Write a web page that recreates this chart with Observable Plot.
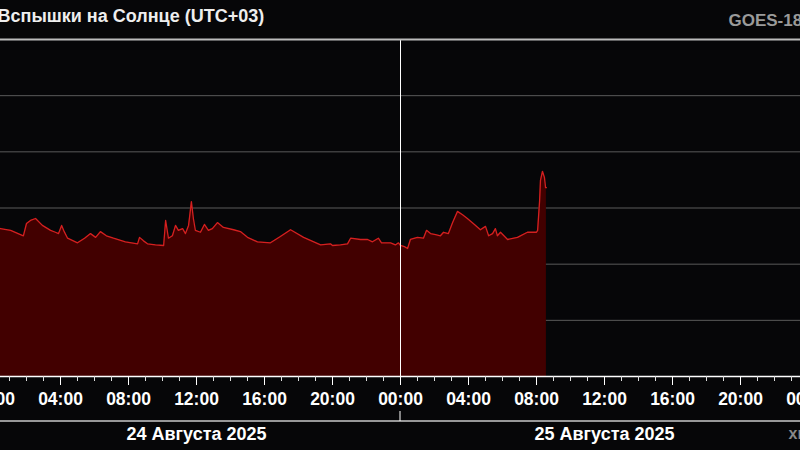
<!DOCTYPE html>
<html><head><meta charset="utf-8">
<script src="https://cdn.jsdelivr.net/npm/d3@7"></script>
<script src="https://cdn.jsdelivr.net/npm/@observablehq/plot@0.6"></script>
<style>html,body{margin:0;padding:0;background:#060608;overflow:hidden;width:800px;height:450px}</style>
</head><body><div id="chart"></div>
<script>
const title = "Вспышки на Солнце (UTC+03)";
const satellite = "GOES-18";
const source = "xras.ru";
const dateLabels = ["24 Августа 2025", "25 Августа 2025"];
const dateCenters = ["2025-08-24T12:00", "2025-08-25T12:00"];
const xDomain = ["2025-08-24T00:00", "2025-08-26T00:00"];
const yDomain = [1e-9, 1e-3];
const gridLevels = [1e-8, 1e-7, 1e-6, 1e-5, 1e-4];

const times = [
 "2025-08-24T00:00","2025-08-24T00:28","2025-08-24T01:04","2025-08-24T01:49","2025-08-24T02:00","2025-08-24T02:14",
 "2025-08-24T02:32","2025-08-24T02:56","2025-08-24T03:25","2025-08-24T03:42","2025-08-24T03:53","2025-08-24T04:04",
 "2025-08-24T04:11","2025-08-24T04:25","2025-08-24T05:00","2025-08-24T05:25","2025-08-24T05:46","2025-08-24T06:04",
 "2025-08-24T06:21","2025-08-24T06:42","2025-08-24T07:07","2025-08-24T07:49","2025-08-24T08:32","2025-08-24T08:39",
 "2025-08-24T08:53","2025-08-24T09:07","2025-08-24T09:35","2025-08-24T10:04","2025-08-24T10:11","2025-08-24T10:21",
 "2025-08-24T10:35","2025-08-24T10:46","2025-08-24T10:56","2025-08-24T11:11","2025-08-24T11:21","2025-08-24T11:32",
 "2025-08-24T11:42","2025-08-24T11:49","2025-08-24T11:56","2025-08-24T12:14","2025-08-24T12:28","2025-08-24T12:42",
 "2025-08-24T12:56","2025-08-24T13:14","2025-08-24T13:35","2025-08-24T14:11","2025-08-24T14:35","2025-08-24T15:00",
 "2025-08-24T15:35","2025-08-24T16:21","2025-08-24T16:56","2025-08-24T17:32","2025-08-24T18:18","2025-08-24T19:18",
 "2025-08-24T19:53","2025-08-24T20:00","2025-08-24T20:28","2025-08-24T20:53","2025-08-24T21:04","2025-08-24T21:39",
 "2025-08-24T22:04","2025-08-24T22:21","2025-08-24T22:42","2025-08-24T22:53","2025-08-24T23:25","2025-08-24T23:42",
 "2025-08-24T23:53",
 "2025-08-25T00:00","2025-08-25T00:14","2025-08-25T00:25","2025-08-25T00:35","2025-08-25T01:00","2025-08-25T01:21",
 "2025-08-25T01:32","2025-08-25T01:46","2025-08-25T02:04","2025-08-25T02:21","2025-08-25T02:32","2025-08-25T02:49",
 "2025-08-25T03:04","2025-08-25T03:21","2025-08-25T03:39","2025-08-25T03:56","2025-08-25T04:21","2025-08-25T04:42",
 "2025-08-25T05:00","2025-08-25T05:11","2025-08-25T05:25","2025-08-25T05:35","2025-08-25T05:42","2025-08-25T05:53",
 "2025-08-25T06:18","2025-08-25T06:53","2025-08-25T07:28","2025-08-25T08:00","2025-08-25T08:04","2025-08-25T08:11",
 "2025-08-25T08:14","2025-08-25T08:21","2025-08-25T08:28","2025-08-25T08:32","2025-08-25T08:35"
];
const flux = [
 4.5e-7,4.3e-7,4.0e-7,3.2e-7,5.3e-7,6.0e-7,
 6.5e-7,4.9e-7,4.0e-7,3.7e-7,3.5e-7,4.9e-7,
 4.0e-7,2.9e-7,2.4e-7,2.9e-7,3.5e-7,3.0e-7,
 3.8e-7,3.2e-7,2.9e-7,2.5e-7,2.3e-7,3.0e-7,
 2.6e-7,2.3e-7,2.2e-7,2.15e-7,6.0e-7,2.9e-7,
 3.2e-7,4.9e-7,4.0e-7,4.3e-7,3.5e-7,4.9e-7,
 1.3e-6,6.5e-7,4.0e-7,3.7e-7,5.1e-7,4.0e-7,
 4.3e-7,5.5e-7,4.5e-7,4.1e-7,3.8e-7,3.0e-7,
 2.5e-7,2.4e-7,3.1e-7,4.1e-7,3.0e-7,2.2e-7,
 2.3e-7,2.15e-7,2.2e-7,2.3e-7,2.9e-7,2.75e-7,
 2.75e-7,2.5e-7,2.9e-7,2.4e-7,2.4e-7,2.2e-7,
 2.4e-7,
 2.15e-7,2.05e-7,1.9e-7,2.75e-7,3.0e-7,2.9e-7,
 4.0e-7,3.5e-7,3.35e-7,3.2e-7,3.7e-7,3.5e-7,
 5.5e-7,8.7e-7,7.6e-7,6.5e-7,5.1e-7,4.1e-7,
 4.7e-7,3.2e-7,3.5e-7,4.3e-7,3.2e-7,3.7e-7,
 2.75e-7,3.0e-7,3.7e-7,3.7e-7,4.0e-7,1.36e-6,
 3.1e-6,4.5e-6,3.5e-6,2.3e-6,2.3e-6
];

const parse = s => new Date(s + ":00Z");
const data = times.map((t, i) => ({t: parse(t), f: flux[i]}));
const start = parse(xDomain[0]), end = parse(xDomain[1]);
const endIncl = d3.utcMinute.offset(end, 1);
const hourTicks = d3.utcHour.every(1).range(start, endIncl);
const majorTicks = d3.utcHour.every(4).range(start, endIncl);
const midnights = d3.utcDay.range(start, endIncl);
const fmt = d3.utcFormat("%H:%M");

const chart = Plot.plot({
  width: 800, height: 450,
  marginTop: 39, marginBottom: 74, marginLeft: 0, marginRight: 0,
  x: {type: "utc", domain: [start, end], range: [-8, 808], axis: null},
  y: {type: "log", domain: yDomain, axis: null},
  style: {background: "#060608", color: "#fff", fontFamily: "'Liberation Sans', Arial, sans-serif", fontWeight: "bold", fontSize: "17px"},
  marks: [
    Plot.ruleY(gridLevels, {stroke: "#5a5a5a", strokeWidth: 1}),
    Plot.areaY(data, {x: "t", y1: yDomain[0], y2: "f", fill: "#420000"}),
    Plot.lineY(data, {x: "t", y: "f", stroke: "#d42020", strokeWidth: 1.3}),
    Plot.ruleX(midnights, {stroke: "#fff", strokeWidth: 1}),
    Plot.ruleY([yDomain[1]], {stroke: "#bbbbbb", strokeWidth: 2}),
    Plot.ruleY([yDomain[0]], {stroke: "#fff", strokeWidth: 1.5}),
    Plot.axisX({ticks: hourTicks, tickSize: 5, stroke: "#ddd", tickFormat: () => "", label: null}),
    Plot.axisX({ticks: majorTicks, tickSize: 9, tickPadding: 7, stroke: "#fff", fill: "#fff", tickFormat: fmt, fontSize: 17.5, fontWeight: "bold", label: null}),
    (index, scales, values, dims) => {
      const g = d3.create("svg:g");
      const yb = dims.height - 29;
      g.append("line").attr("x1", 0).attr("x2", dims.width).attr("y1", yb).attr("y2", yb)
        .attr("stroke", "#c8c8c8").attr("stroke-width", 1.5);
      for (const m of midnights) {
        const x = scales.x(m);
        g.append("line").attr("x1", x).attr("x2", x).attr("y1", yb - 10).attr("y2", yb).attr("stroke", "#fff");
      }
      return g.node();
    },
    Plot.text(dateLabels, {x: (d, i) => parse(dateCenters[i]), text: d => d, frameAnchor: "bottom", dy: 63, lineAnchor: "bottom", fontSize: 18, fontWeight: "bold", fill: "#fff"}),
    Plot.text([title], {text: d => d, frameAnchor: "top-left", dx: -3, dy: -18, textAnchor: "start", lineAnchor: "bottom", fontSize: 18, fontWeight: "bold", fill: "#eee"}),
    Plot.text([satellite], {text: d => d, frameAnchor: "top-right", dx: -72, dy: -14, textAnchor: "start", lineAnchor: "bottom", fontSize: 17, fontWeight: "bold", fill: "#9a9a9a"}),
    Plot.text([source], {text: d => d, frameAnchor: "bottom-right", dx: -12, dy: 62, textAnchor: "start", lineAnchor: "bottom", fontSize: 16, fontWeight: "bold", fill: "#888"})
  ]
});
document.getElementById("chart").appendChild(chart);
</script>
</body></html>
